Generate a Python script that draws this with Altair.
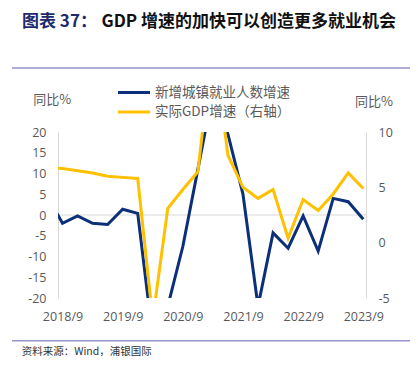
import json
import altair as alt
import pandas as pd

# ---- data ----
quarters = ["2018/6", "2018/9", "2018/12", "2019/3", "2019/6", "2019/9", "2019/12",
            "2020/3", "2020/6", "2020/9", "2020/12", "2021/3", "2021/6", "2021/9",
            "2021/12", "2022/3", "2022/6", "2022/9", "2022/12", "2023/3", "2023/6", "2023/9"]
employment = [4.5, -2.0, -0.2, -2.0, -2.3, 1.4, 0.4, -29.5, -22.0, -7.6, 11.0, 29.7,
              19.5, 5.0, -22.0, -4.3, -8.0, -0.2, -8.7, 4.0, 3.2, -1.0]
gdp = [6.8, 6.7, 6.5, 6.3, 6.0, 5.9, 5.8, -6.9, 3.1, 4.8, 6.4, 18.3,
       7.9, 5.0, 4.0, 4.8, 0.4, 3.9, 2.9, 4.4, 6.3, 4.9]
series_names = ["新增城镇就业人数增速", "实际GDP增速（右轴）"]
left_ticks = [-20, -15, -10, -5, 0, 5, 10, 15, 20]
right_ticks = [-5, 0, 5, 10]
x_tick_idx = [i for i, q in enumerate(quarters) if q.endswith("/9")]
title_prefix = "图表 37："
title_main = "GDP 增速的加快可以创造更多就业机会"
axis_unit = "同比%"
source_text = "资料来源：Wind，浦银国际"

BLUE = "#0b2f79"
GOLD = "#ffc000"
AX_GRAY = "#595959"
LINE_GRAY = "#d9d9d9"
PURPLE = "#9795cc"
FONT = "Open Sans"
CJK = "Noto Sans CJK SC"

df = pd.DataFrame({"idx": list(range(len(quarters))), "quarter": quarters,
                   "employment": employment, "gdp": gdp})

x_enc = alt.X(
    "idx:Q",
    scale=alt.Scale(domain=[0.7, 21.18], nice=False, zero=False),
    axis=alt.Axis(values=x_tick_idx, labelExpr=json.dumps(quarters) + "[datum.value]",
                  domain=False, ticks=False, grid=False, title=None, labelOverlap=False,
                  labelPadding=12, labelFontSize=12.5, labelColor=AX_GRAY, labelFont=FONT),
)


def y_axis(values, orient):
    return alt.Axis(orient=orient, values=values, labelExpr="datum.value + ''",
                    domain=True, domainColor=LINE_GRAY, ticks=False, grid=False, title=None,
                    labelOverlap=False, labelPadding=12, labelFontSize=12.5,
                    labelColor=AX_GRAY, labelFont=FONT)


left_scale = alt.Scale(domain=[-20, 20], nice=False)

zero = alt.Chart(pd.DataFrame({"v": [0]})).mark_rule(color=LINE_GRAY, strokeWidth=1).encode(
    y=alt.Y("v:Q", scale=left_scale, axis=y_axis(left_ticks, "left"))
)

blue = alt.Chart(df).mark_line(clip=True, color=BLUE, strokeWidth=3).encode(
    x=x_enc,
    y=alt.Y("employment:Q", scale=left_scale, axis=y_axis(left_ticks, "left")),
)

gold = alt.Chart(df).mark_line(clip=True, color=GOLD, strokeWidth=3).encode(
    x=alt.X("idx:Q"),
    y=alt.Y("gdp:Q", scale=alt.Scale(domain=[-5, 10], nice=False),
            axis=y_axis(right_ticks, "right")),
)


def txt(t, x, y, size, color, weight="normal", font=CJK, align="left"):
    return alt.Chart(pd.DataFrame({"t": [t]})).mark_text(
        align=align, baseline="middle", fontSize=size, color=color, fontWeight=weight, font=font
    ).encode(x=alt.value(x), y=alt.value(y), text="t:N")


def hrule(x1, x2, y, color, w):
    return alt.Chart(pd.DataFrame({"a": [0]})).mark_rule(color=color, strokeWidth=w).encode(
        x=alt.value(x1), x2=alt.value(x2), y=alt.value(y))


deco = [
    txt(title_prefix, -36, -110, 17, "#1f2a6e", "bold"),
    txt(title_main, 43.5, -110, 17, "#111111", "bold"),
    hrule(-46, 355, -64, PURPLE, 1.5),
    hrule(-46, 355, 208.7, PURPLE, 1.5),
    txt(source_text, -36.3, 219.7, 10.5, "#333333"),
    txt(axis_unit, -24.7, -32, 13, AX_GRAY),
    txt(axis_unit, 297, -30, 13, AX_GRAY),
    hrule(60, 92, -39.5, BLUE, 3),
    hrule(60, 92, -20, GOLD, 3),
    txt(series_names[0], 97, -39.5, 13.5, AX_GRAY),
    txt(series_names[1], 97, -20, 13.5, AX_GRAY),
]

chart = alt.layer(alt.layer(zero, blue), gold, *deco).resolve_scale(y="independent").properties(
    width=308, height=166,
    autosize=alt.AutoSizeParams(type="none"),
    padding={"left": 50, "top": 124, "right": 44, "bottom": 63},
).configure_view(stroke=None)

chart.save("out.html", embed_options={"renderer": "svg", "actions": False})
